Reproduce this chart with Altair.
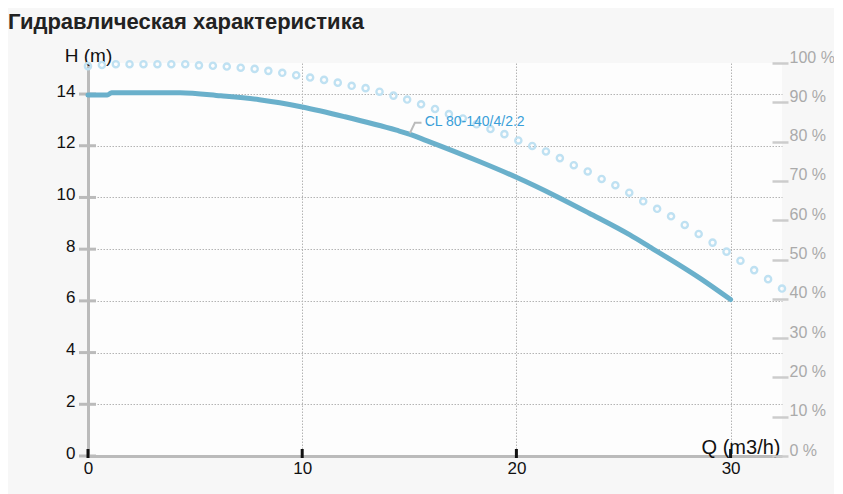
import altair as alt
import pandas as pd

title_text = "Гидравлическая характеристика"
model_label = "CL 80-140/4/2.2"

# Head curve H (m) vs Q (m3/h)
head_q = [0, 0.9, 1.1, 4.3, 6.2, 8.0, 10.0, 12.0, 14.4, 15.0, 15.8, 18.3, 20.0, 21.9, 23.4, 25.3, 26.2, 28.6, 30.0]
head_h = [13.96, 13.96, 14.05, 14.05, 13.93, 13.78, 13.5, 13.12, 12.6, 12.45, 12.2, 11.38, 10.78, 10.03, 9.39, 8.55, 8.1, 6.86, 6.05]

# Efficiency-style dotted curve (%) vs Q
eff_q = [0, 0.65, 1.3, 1.94, 2.59, 3.24, 3.89, 4.54, 5.18, 5.83, 6.48, 7.13, 7.78, 8.42, 9.07,
         9.72, 10.37, 11.02, 11.66, 12.31, 12.96, 13.61, 14.26, 14.9, 15.55, 16.2, 16.85, 17.5,
         18.14, 18.79, 19.44, 20.09, 20.74, 21.38, 22.03, 22.68, 23.33, 23.98, 24.62, 25.27,
         25.92, 26.57, 27.22, 27.86, 28.51, 29.16, 29.81, 30.46, 31.1, 31.75, 32.4]
eff_pct = [99.2, 99.5, 99.7, 99.7, 99.7, 99.7, 99.7, 99.7, 99.4, 99.3, 99.1, 98.8, 98.5, 98.0, 97.5,
           96.9, 96.3, 95.7, 95.0, 94.2, 93.6, 92.7, 91.7, 90.7, 89.5, 88.3, 87.0, 85.9,
           84.4, 83.2, 81.9, 80.3, 78.9, 77.5, 75.8, 74.0, 72.4, 70.5, 68.9, 67.0,
           64.8, 62.9, 61.0, 58.8, 56.5, 54.3, 52.0, 49.7, 47.3, 45.0, 42.6]

q_ticks = [0, 10, 20, 30]
h_ticks = [0, 2, 4, 6, 8, 10, 12, 14]
pct_ticks = [0, 10, 20, 30, 40, 50, 60, 70, 80, 90, 100]

# label anchor and leader line (data units)
label_q = [15.72]
label_h = [12.93]
leader_q = [15.03, 15.26, 15.57]
leader_h = [12.49, 12.89, 12.89]

W, H = 694, 393
FONT = "Liberation Sans"

head_df = pd.DataFrame({"q": head_q, "h": head_h})
eff_df = pd.DataFrame({"q": eff_q, "p": eff_pct})
label_df = pd.DataFrame({"q": label_q, "h": label_h, "t": [model_label]})
leader_df = pd.DataFrame({"q": leader_q, "h": leader_h, "o": [0, 1, 2]})
hticks_df = pd.DataFrame({"h": h_ticks})
qticks_df = pd.DataFrame({"q": q_ticks})

x_enc = alt.X(
    "q:Q",
    scale=alt.Scale(domain=[0, 32.4], nice=False, zero=False),
    axis=alt.Axis(
        values=q_ticks, grid=True, gridDash=[1.5, 1.5], gridColor="#b4b4b4", gridWidth=1,
        domainColor="#bbbbbb", domainWidth=3, ticks=False, labelFlush=False,
        labelFontSize=17, labelColor="#111111", labelPadding=4, labelFont=FONT,
        title="Q (m3/h)", titleX=W - 2, titleY=-3, titleAlign="right",
        titleBaseline="alphabetic", titleFontSize=20, titleFontWeight="normal",
        titleColor="#111111", titleFont=FONT,
    ),
)

h_scale = alt.Scale(domain=[0, 15.2], nice=False, zero=True)
y_head = alt.Y(
    "h:Q",
    scale=h_scale,
    axis=alt.Axis(
        values=h_ticks, grid=True, gridDash=[1.5, 1.5], gridColor="#b4b4b4", gridWidth=1,
        domainColor="#bbbbbb", domainWidth=3, ticks=False,
        labelFontSize=17, labelColor="#111111", labelPadding=13, labelFont=FONT,
        labelBaseline="alphabetic", labelOffset=2,
        title="H (m)", titleAngle=0, titleX=0, titleY=-2, titleAlign="center",
        titleBaseline="alphabetic", titleFontSize=19, titleFontWeight="normal",
        titleColor="#111111", titleFont=FONT,
    ),
)

eff = alt.Chart(eff_df).mark_point(
    shape="circle", filled=False, stroke="#bfe1f2", strokeWidth=2.4, size=38, opacity=1
).encode(
    x=x_enc,
    y=alt.Y(
        "p:Q",
        scale=alt.Scale(domain=[0, 100], nice=False),
        axis=alt.Axis(
            orient="right", values=pct_ticks, offset=-10, tickSize=16, tickWidth=2.5,
            tickColor="#cccccc", domain=False, grid=False, labelColor="#aaaaaa",
            labelFontSize=16, labelPadding=1, labelBaseline="alphabetic", labelOffset=-1,
            labelExpr="datum.value + ' %'", labelFont=FONT, title=None,
        ),
    ),
)

hticks = alt.Chart(hticks_df).mark_rule(color="#bbbbbb", strokeWidth=3).encode(
    y=y_head, x=alt.value(-9), x2=alt.value(8)
)

qticks = alt.Chart(qticks_df).mark_rule(color="#111111", strokeWidth=3).encode(
    x=x_enc, y=alt.value(H - 7), y2=alt.value(H + 2)
)

head = alt.Chart(head_df).mark_line(
    color="#6ab0cb", strokeWidth=5, interpolate="monotone", strokeCap="round"
).encode(x=x_enc, y=y_head)

leader = alt.Chart(leader_df).mark_line(color="#bbbbbb", strokeWidth=2).encode(
    x=x_enc, y=y_head, order="o:Q"
)

label = alt.Chart(label_df).mark_text(
    align="left", baseline="middle", fontSize=14, color="#3a9fd9", font=FONT
).encode(x=x_enc, y=y_head, text="t:N")

inner = alt.layer(hticks, head, leader, label, qticks)

chart = (
    alt.layer(eff, inner)
    .resolve_scale(y="independent")
    .properties(
        width=W,
        height=H,
        autosize=alt.AutoSizeParams(type="none"),
        padding={"left": 80, "top": 55, "right": 52, "bottom": 38},
        background="#f7f7f7",
        title=alt.TitleParams(
            title_text, anchor="start", frame="group", fontSize=22, fontWeight="bold",
            color="#222222", font=FONT, dx=-80, offset=12,
        ),
    )
    .configure_view(stroke=None, fill="#fdfdfd")
)

chart.save("out.html", embed_options={"renderer": "svg", "actions": False})
